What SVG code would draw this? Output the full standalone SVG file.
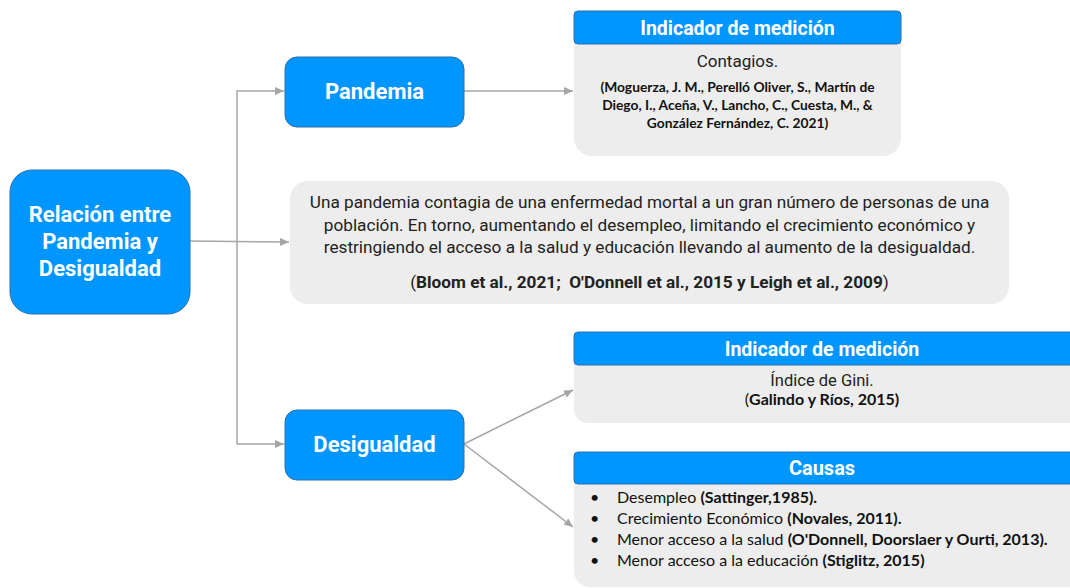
<svg xmlns="http://www.w3.org/2000/svg" width="1070" height="588" viewBox="0 0 1070 588">
<defs>
<style>
.blue{fill:#0096FF;stroke:#2F6FB0;stroke-width:1}
.gray{fill:#EDEDED;stroke:none}
.hdr{fill:#0096FF;stroke:#2F6FB0;stroke-width:1}
.wt{font-family:Roboto,"Liberation Sans",sans-serif;font-weight:bold;fill:#FFFFFF;text-anchor:middle}
.bt{font-family:Roboto,"Liberation Sans",sans-serif;fill:#222222;text-anchor:middle}
.ct{font-family:Lato,"Liberation Sans",sans-serif;fill:#111111}
.cb{font-weight:bold}
.con{fill:none;stroke:#A6A6A6;stroke-width:1.5}
</style>
<marker id="ah" markerWidth="10" markerHeight="8" refX="9" refY="4" orient="auto" markerUnits="userSpaceOnUse">
<path d="M0,0 L9,4 L0,8 Z" fill="#A6A6A6"/>
</marker>
</defs>
<rect width="1070" height="588" fill="#FFFFFF"/>

<g id="connectors">
<path class="con" d="M190,241 L289,242" marker-end="url(#ah)"/>
<path class="con" d="M237,241 L237,91 L284,91" marker-end="url(#ah)"/>
<path class="con" d="M237,241 L237,444 L284,444" marker-end="url(#ah)"/>
<path class="con" d="M464,91 L573,91" marker-end="url(#ah)"/>
<path class="con" d="M464,444 L573,390" marker-end="url(#ah)"/>
<path class="con" d="M464,444 L573,527" marker-end="url(#ah)"/>
</g>

<g id="main">
<rect class="blue" x="10" y="170" width="180" height="144" rx="22"/>
<text class="wt" x="100" y="222" font-size="22">Relación entre</text>
<text class="wt" x="100" y="249" font-size="22">Pandemia y</text>
<text class="wt" x="100" y="276" font-size="22">Desigualdad</text>
</g>

<g id="pandemia">
<rect class="blue" x="285" y="57" width="179" height="70" rx="12"/>
<text class="wt" x="374.5" y="99" font-size="22">Pandemia</text>
</g>

<g id="desigualdad">
<rect class="blue" x="285" y="410" width="179" height="70" rx="12"/>
<text class="wt" x="374.5" y="452" font-size="22">Desigualdad</text>
</g>

<g id="indicador1">
<rect class="gray" x="574" y="11" width="327" height="145" rx="18"/>
<rect class="hdr" x="574" y="11" width="327" height="33" rx="4"/>
<text class="wt" x="737.5" y="34.5" font-size="19.5">Indicador de medición</text>
<text class="bt" x="737.5" y="67" font-size="17">Contagios.</text>
<text class="ct cb" x="737.5" y="92" font-size="13.8" text-anchor="middle">(Moguerza, J. M., Perelló Oliver, S., Martín de</text>
<text class="ct cb" x="737.5" y="110" font-size="13.8" text-anchor="middle">Diego, I., Aceña, V., Lancho, C., Cuesta, M., &amp;</text>
<text class="ct cb" x="737.5" y="128" font-size="13.8" text-anchor="middle">González Fernández, C. 2021)</text>
</g>

<g id="definicion">
<rect class="gray" x="290" y="181" width="719" height="123" rx="18"/>
<text class="bt" x="649.5" y="208" font-size="17.2">Una pandemia contagia de una enfermedad mortal a un gran número de personas de una</text>
<text class="bt" x="649.5" y="231" font-size="17.2">población. En torno, aumentando el desempleo, limitando el crecimiento económico y</text>
<text class="bt" x="649.5" y="253" font-size="17.2">restringiendo el acceso a la salud y educación llevando al aumento de la desigualdad.</text>
<text class="bt" x="649.5" y="288" font-size="17.2">(<tspan font-weight="bold">Bloom et al., 2021;&#160; O'Donnell et al., 2015 y Leigh et al., 2009</tspan>)</text>
</g>

<g id="indicador2">
<rect class="gray" x="574" y="332" width="520" height="91" rx="14"/>
<rect class="hdr" x="574" y="332" width="520" height="33" rx="4"/>
<text class="wt" x="822" y="355.5" font-size="19.5">Indicador de medición</text>
<text class="bt" x="822" y="386" font-size="16.5">Índice de Gini.</text>
<text class="ct" x="822" y="405" font-size="16" text-anchor="middle">(<tspan class="cb">Galindo y Ríos, 2015)</tspan></text>
</g>

<g id="causas">
<rect class="gray" x="574" y="452" width="520" height="135" rx="16"/>
<rect class="hdr" x="574" y="452" width="520" height="32" rx="4"/>
<text class="wt" x="822" y="475" font-size="20">Causas</text>
<g class="ct" font-size="16">
<text x="590" y="503">•</text>
<text x="617" y="503">Desempleo <tspan class="cb">(Sattinger,1985).</tspan></text>
<text x="590" y="524">•</text>
<text x="617" y="524">Crecimiento Económico <tspan class="cb">(Novales, 2011).</tspan></text>
<text x="590" y="545">•</text>
<text x="617" y="545">Menor acceso a la salud <tspan class="cb">(O'Donnell, Doorslaer y Ourti, 2013).</tspan></text>
<text x="590" y="566">•</text>
<text x="617" y="566">Menor acceso a la educación <tspan class="cb">(Stiglitz, 2015)</tspan></text>
</g>
</g>
</svg>
